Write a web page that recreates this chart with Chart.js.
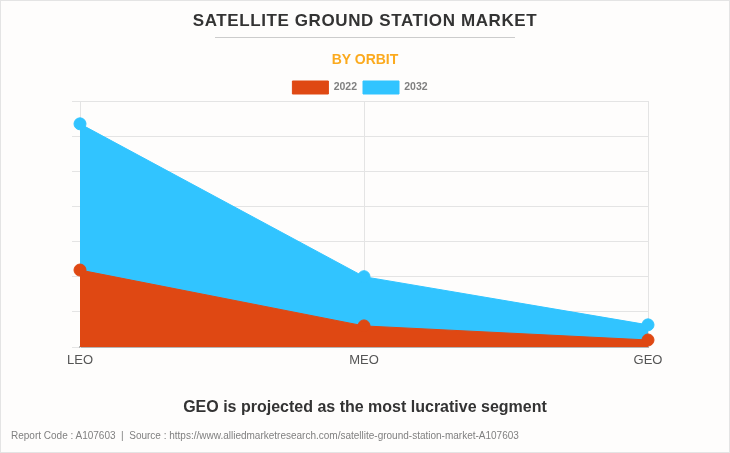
<!DOCTYPE html>
<html lang="en">

<head>
    <title>Satellite Ground Station Market</title>
    <meta charset="utf-8">
    <script src="https://cdn.jsdelivr.net/npm/chart.js"></script>
    <style>
        html, body { margin: 0; padding: 0; }
        body { width: 730px; height: 453px; overflow: hidden; background: #fefdfc; font-family: "Liberation Sans", Arial, sans-serif; }
        #frame { position: absolute; left: 0; top: 0; width: 728px; height: 451px; border: 1px solid #e4e4e4; }
        #chartBox { position: absolute; left: 0; top: 0; width: 730px; height: 453px; }
        .txt { position: absolute; left: 0; width: 730px; text-align: center; font-weight: bold; white-space: nowrap; }
        #title { top: 10px; font-size: 17px; line-height: 22px; letter-spacing: 0.6px; color: #333333; }
        #rule { position: absolute; left: 215px; top: 37px; width: 300px; height: 1px; background: #cccccc; }
        #subtitle { top: 50px; font-size: 14px; line-height: 18px; color: #fbaa1e; }
        #note { top: 397px; font-size: 16px; line-height: 20px; color: #333333; }
        #source { position: absolute; left: 11px; top: 429px; font-size: 10px; line-height: 13px; color: #808080; white-space: nowrap; }
    </style>
</head>

<body>
    <div id="frame"></div>
    <div id="chartBox"><canvas id="orbitChart"></canvas></div>
    <div id="title" class="txt">SATELLITE GROUND STATION MARKET</div>
    <div id="rule"></div>
    <div id="subtitle" class="txt">BY ORBIT</div>
    <div id="note" class="txt">GEO is projected as the most lucrative segment</div>
    <div id="source">Report Code : A107603&nbsp; |&nbsp; Source : https://www.alliedmarketresearch.com/satellite-ground-station-market-A107603</div>

    <script>
        const categories = ['LEO', 'MEO', 'GEO'];
        const values2022 = [2.19, 0.6, 0.2];
        const values2032 = [6.35, 2.0, 0.63];

        const ctx = document.getElementById('orbitChart').getContext('2d');

        // pull the plot area closer to the legend
        const legendGap = {
            id: 'legendGap',
            beforeInit(chart) {
                const fit = chart.legend.fit;
                chart.legend.fit = function () {
                    fit.call(this);
                    this.height -= 3;
                };
            }
        };

        new Chart(ctx, {
            type: 'line',
            data: {
                labels: categories,
                datasets: [{
                    label: '2022',
                    data: values2022,
                    backgroundColor: '#df4813',
                    borderColor: '#df4813',
                    pointBackgroundColor: '#df4813',
                    borderWidth: 1,
                    pointRadius: 6,
                    fill: 'origin',
                    tension: 0,
                    order: 1
                }, {
                    label: '2032',
                    data: values2032,
                    backgroundColor: '#31c4ff',
                    borderColor: '#31c4ff',
                    pointBackgroundColor: '#31c4ff',
                    borderWidth: 1,
                    pointRadius: 6,
                    fill: 'origin',
                    tension: 0,
                    order: 2
                }]
            },
            plugins: [legendGap],
            options: {
                responsive: true,
                maintainAspectRatio: false,
                animation: false,
                layout: { padding: { left: 72, right: 82, top: 75, bottom: 0 } },
                plugins: {
                    legend: {
                        position: 'top',
                        labels: {
                            boxWidth: 36,
                            boxHeight: 13,
                            padding: 6,
                            color: '#808080',
                            font: { family: '"Liberation Sans", Arial', size: 10.5, weight: 'bold' }
                        }
                    },
                    tooltip: { enabled: false }
                },
                scales: {
                    x: {
                        grid: { color: '#e4e4e4', drawTicks: false },
                        border: { color: '#b5b5b5', width: 2 },
                        ticks: { color: '#555555', maxRotation: 0, padding: 6, font: { family: '"Liberation Sans", Arial', size: 13 } },
                        afterFit: (scale) => { scale.height = 106; }
                    },
                    y: {
                        min: 0,
                        max: 7,
                        grid: { color: '#e4e4e4', tickLength: 8 },
                        border: { color: '#e4e4e4' },
                        ticks: { stepSize: 1, callback: () => '' },
                        afterFit: (scale) => { scale.width = 8; }
                    }
                }
            }
        });
    </script>
</body>

</html>
